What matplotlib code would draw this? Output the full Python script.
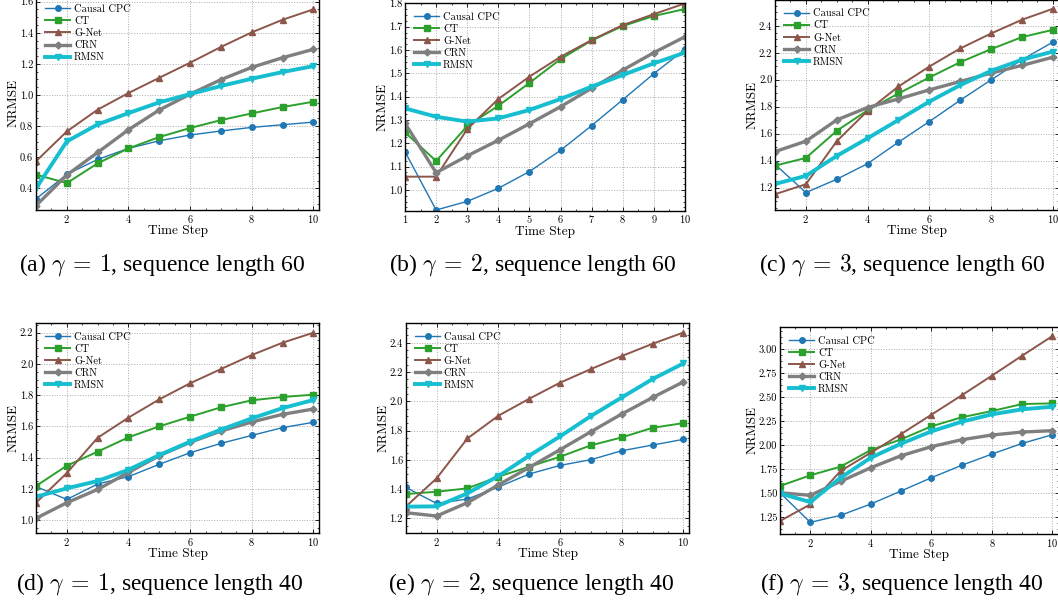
import matplotlib
matplotlib.use("Agg")
import matplotlib.pyplot as plt
from matplotlib.ticker import MultipleLocator, AutoMinorLocator

plt.rcParams['font.family'] = ['cmr10', 'DejaVu Serif']
plt.rcParams['mathtext.fontset'] = 'cm'
plt.rcParams['axes.formatter.use_mathtext'] = True
plt.rcParams['xtick.direction'] = 'in'
plt.rcParams['ytick.direction'] = 'in'
plt.rcParams['xtick.top'] = True
plt.rcParams['ytick.right'] = True
plt.rcParams['xtick.minor.visible'] = True
plt.rcParams['ytick.minor.visible'] = True

steps = [1, 2, 3, 4, 5, 6, 7, 8, 9, 10]
methods = ["Causal CPC", "CT", "G-Net", "CRN", "RMSN"]

# (a) gamma=1, seq len 60
a_cpc = [0.332, 0.49, 0.586, 0.657, 0.706, 0.743, 0.769, 0.792, 0.809, 0.826]
a_ct = [0.488, 0.434, 0.561, 0.657, 0.73, 0.788, 0.839, 0.882, 0.923, 0.957]
a_gnet = [0.574, 0.766, 0.906, 1.013, 1.111, 1.208, 1.309, 1.403, 1.484, 1.551]
a_crn = [0.289, 0.486, 0.631, 0.777, 0.904, 1.006, 1.099, 1.178, 1.24, 1.294]
a_rmsn = [0.40, 0.702, 0.811, 0.884, 0.953, 1.006, 1.058, 1.105, 1.148, 1.186]

# (b) gamma=2, seq len 60
b_cpc = [1.164, 0.914, 0.951, 1.007, 1.079, 1.17, 1.276, 1.387, 1.499, 1.603]
b_ct = [1.247, 1.124, 1.274, 1.361, 1.459, 1.561, 1.641, 1.703, 1.746, 1.776]
b_gnet = [1.057, 1.057, 1.261, 1.39, 1.486, 1.571, 1.643, 1.707, 1.754, 1.80]
b_crn = [1.286, 1.074, 1.146, 1.213, 1.284, 1.357, 1.436, 1.514, 1.589, 1.657]
b_rmsn = [1.35, 1.314, 1.293, 1.307, 1.343, 1.39, 1.443, 1.493, 1.543, 1.589]

# (c) gamma=3, seq len 60
c_cpc = [1.373, 1.163, 1.262, 1.378, 1.537, 1.69, 1.848, 1.999, 2.148, 2.279]
c_ct = [1.363, 1.42, 1.621, 1.774, 1.898, 2.017, 2.13, 2.227, 2.316, 2.37]
c_gnet = [1.151, 1.225, 1.544, 1.769, 1.95, 2.098, 2.232, 2.343, 2.445, 2.526]
c_crn = [1.467, 1.544, 1.702, 1.794, 1.858, 1.925, 1.987, 2.049, 2.106, 2.167]
c_rmsn = [1.227, 1.287, 1.435, 1.566, 1.702, 1.838, 1.96, 2.066, 2.148, 2.209]

# (d) gamma=1, seq len 40
d_cpc = [1.214, 1.132, 1.231, 1.278, 1.357, 1.431, 1.491, 1.542, 1.592, 1.626]
d_ct = [1.218, 1.348, 1.438, 1.53, 1.6, 1.662, 1.722, 1.767, 1.788, 1.803]
d_gnet = [1.111, 1.301, 1.527, 1.656, 1.773, 1.876, 1.967, 2.057, 2.136, 2.2]
d_crn = [1.011, 1.111, 1.196, 1.305, 1.412, 1.498, 1.57, 1.628, 1.677, 1.711]
d_rmsn = [1.149, 1.203, 1.25, 1.322, 1.416, 1.502, 1.579, 1.651, 1.717, 1.769]

# (e) gamma=2, seq len 40
e_cpc = [1.412, 1.302, 1.332, 1.414, 1.503, 1.562, 1.601, 1.662, 1.701, 1.74]
e_ct = [1.366, 1.382, 1.405, 1.485, 1.553, 1.621, 1.699, 1.753, 1.819, 1.851]
e_gnet = [1.28, 1.473, 1.746, 1.901, 2.017, 2.127, 2.22, 2.309, 2.393, 2.47]
e_crn = [1.239, 1.216, 1.307, 1.428, 1.548, 1.669, 1.792, 1.913, 2.026, 2.133]
e_rmsn = [1.28, 1.282, 1.371, 1.489, 1.628, 1.76, 1.899, 2.026, 2.152, 2.259]

# (f) gamma=3, seq len 40
f_cpc = [1.506, 1.198, 1.271, 1.389, 1.524, 1.662, 1.791, 1.908, 2.019, 2.109]
f_ct = [1.576, 1.687, 1.777, 1.95, 2.061, 2.196, 2.29, 2.355, 2.428, 2.435]
f_gnet = [1.212, 1.385, 1.732, 1.922, 2.116, 2.317, 2.518, 2.723, 2.931, 3.135]
f_crn = [1.506, 1.479, 1.624, 1.766, 1.891, 1.985, 2.057, 2.106, 2.137, 2.151]
f_rmsn = [1.499, 1.409, 1.662, 1.87, 2.016, 2.144, 2.244, 2.321, 2.373, 2.40]

captions = [
    r"(a) $\gamma\:=\:1$, sequence length 60",
    r"(b) $\gamma\:=\:2$, sequence length 60",
    r"(c) $\gamma\:=\:3$, sequence length 60",
    r"(d) $\gamma\:=\:1$, sequence length 40",
    r"(e) $\gamma\:=\:2$, sequence length 40",
    r"(f) $\gamma\:=\:3$, sequence length 40",
]

panels = [
    [a_cpc, a_ct, a_gnet, a_crn, a_rmsn],
    [b_cpc, b_ct, b_gnet, b_crn, b_rmsn],
    [c_cpc, c_ct, c_gnet, c_crn, c_rmsn],
    [d_cpc, d_ct, d_gnet, d_crn, d_rmsn],
    [e_cpc, e_ct, e_gnet, e_crn, e_rmsn],
    [f_cpc, f_ct, f_gnet, f_crn, f_rmsn],
]

colors = ['#1f77b4', '#2ca02c', '#8c564b', '#7f7f7f', '#17becf']
markers = ['o', 's', '^', 'D', 'v']
lws = [1.0, 1.4, 1.4, 2.4, 2.8]
msizes = [4, 4.5, 4.5, 3.5, 5]

W, H = 1058, 607
fig = plt.figure(figsize=(W / 100, H / 100), dpi=100)

# axes rects in pixels: left, top, right, bottom
rects = [
    (36, -5, 319, 210),
    (405, 2.7, 685, 210.7),
    (775, -0.5, 1059, 210),
    (36, 322.7, 319, 533.3),
    (405.7, 322.7, 689.3, 533.3),
    (780, 326.7, 1058.5, 534),
]
ylims = [(0.261, 1.643), (0.911, 1.803), (1.034, 2.595),
         (0.915, 2.264), (1.098, 2.537), (1.077, 3.232)]
xlims = [(1, 10.18), (1, 10), (1, 10.2), (1, 10.18), (1, 10.19), (1, 10.2)]
ymajor = [0.2, 0.1, 0.2, 0.2, 0.2, 0.25]
xmajor = [2, 1, 2, 2, 2, 2]
cap_pos = [(162, 265), (533, 265), (902, 265), (160, 584), (531, 584), (902, 584)]

for i, (rect, series) in enumerate(zip(rects, panels)):
    l, t, r, b = rect
    ax = fig.add_axes([l / W, 1 - b / H, (r - l) / W, (b - t) / H])
    for j, vals in enumerate(series):
        ax.plot(steps, vals, color=colors[j], marker=markers[j], lw=lws[j],
                ms=msizes[j], label=methods[j], clip_on=True)
    ax.set_xlim(*xlims[i])
    ax.set_ylim(*ylims[i])
    ax.xaxis.set_major_locator(MultipleLocator(xmajor[i]))
    ax.yaxis.set_major_locator(MultipleLocator(ymajor[i]))
    ax.xaxis.set_minor_locator(AutoMinorLocator(4 if xmajor[i] == 2 else 2))
    ax.yaxis.set_minor_locator(AutoMinorLocator(4))
    if ymajor[i] == 0.25:
        ax.yaxis.set_major_formatter(matplotlib.ticker.FormatStrFormatter('%.2f'))
    else:
        ax.yaxis.set_major_formatter(matplotlib.ticker.FormatStrFormatter('%.1f'))
    ax.tick_params(which='major', length=3, width=0.6, labelsize=7.5, pad=2)
    ax.tick_params(which='minor', length=1.5, width=0.5)
    ax.grid(True, which='major', linestyle=':', color='#aaaaaa', lw=0.7)
    for sp in ax.spines.values():
        sp.set_linewidth(1.0)
    ax.set_xlabel("Time Step", fontsize=9.5, labelpad=0)
    ax.set_ylabel("NRMSE", fontsize=9.5, labelpad=0)
    ax.legend(loc='upper left', frameon=False, fontsize=7.5, handlelength=2.4,
              labelspacing=0.25, borderaxespad=0.5, handletextpad=0.35)
    cx, cy = cap_pos[i]
    fig.text(cx / W, 1 - cy / H, captions[i], ha='center', va='center',
             fontsize=17, family=['Liberation Serif', 'DejaVu Serif'])

fig.savefig("out.png", dpi=100)
